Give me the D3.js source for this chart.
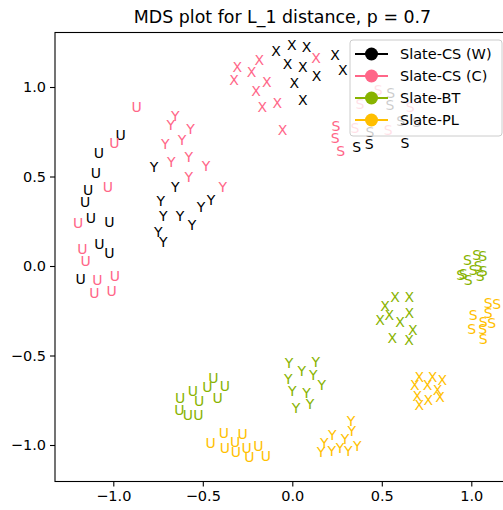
<!DOCTYPE html>
<html>
<head>
<meta charset="utf-8">
<script src="https://cdn.jsdelivr.net/npm/d3@7"></script>
<style>
  body { margin: 0; background: #fff; }
  text { font-family: "DejaVu Sans", sans-serif; }
</style>
</head>
<body>
<svg id="chart" width="503" height="510"></svg>
<script>
// MDS coordinates, one array of [x, y] per series and marker letter
const series = ['Slate-CS (W)', 'Slate-CS (C)', 'Slate-BT', 'Slate-PL'];
const letters = ['U', 'Y', 'X', 'S'];

const csW = {
    U: [[-0.959, 0.732], [-1.080, 0.630], [-1.098, 0.518], [-1.140, 0.425], [-1.158, 0.356],
        [-1.125, 0.266], [-1.022, 0.247], [-1.078, 0.123], [-1.022, 0.074], [-1.182, -0.073]],
    Y: [[-0.773, 0.551], [-0.654, 0.443], [-0.735, 0.363], [-0.721, 0.279], [-0.627, 0.279],
        [-0.560, 0.229], [-0.510, 0.328], [-0.454, 0.369], [-0.749, 0.192], [-0.721, 0.136]],
    X: [[-0.091, 1.201], [-0.003, 1.235], [0.080, 1.225], [-0.026, 1.128], [0.058, 1.113],
        [0.136, 1.061], [0.011, 1.021], [0.058, 0.927], [0.239, 1.179], [0.282, 1.095]],
    S: [[0.550, 0.965], [0.546, 0.899], [0.606, 0.812], [0.695, 0.806], [0.434, 0.750],
        [0.360, 0.663], [0.430, 0.682], [0.630, 0.685]]
};
const csC = {
    U: [[-0.869, 0.887], [-0.994, 0.689], [-1.031, 0.443], [-1.196, 0.242], [-1.173, 0.093],
        [-1.154, 0.030], [-1.089, -0.078], [-0.991, -0.056], [-1.106, -0.149], [-1.009, -0.140]],
    Y: [[-0.654, 0.840], [-0.679, 0.788], [-0.568, 0.765], [-0.709, 0.680], [-0.616, 0.704],
        [-0.579, 0.611], [-0.676, 0.583], [-0.482, 0.559], [-0.579, 0.496], [-0.389, 0.443]],
    X: [[-0.184, 1.151], [-0.307, 1.113], [-0.227, 1.082], [-0.326, 1.039], [-0.143, 1.026],
        [-0.203, 0.978], [-0.168, 0.887], [-0.084, 0.912], [-0.054, 0.760], [0.132, 1.160]],
    S: [[0.244, 0.782], [0.239, 0.717], [0.270, 0.644], [0.480, 0.983], [0.378, 0.903],
        [0.658, 0.890], [0.350, 0.769], [0.536, 0.760]]
};
const bt = {
    U: [[-0.627, -0.739], [-0.556, -0.698], [-0.475, -0.678], [-0.441, -0.627], [-0.376, -0.670],
        [-0.520, -0.753], [-0.417, -0.739], [-0.631, -0.804], [-0.584, -0.832], [-0.525, -0.832]],
    Y: [[-0.018, -0.540], [0.053, -0.585], [0.131, -0.536], [-0.022, -0.633], [0.117, -0.609],
        [0.164, -0.665], [0.000, -0.697], [0.080, -0.708], [0.099, -0.771], [0.021, -0.795]],
    X: [[0.574, -0.175], [0.654, -0.172], [0.518, -0.223], [0.542, -0.274], [0.654, -0.261],
        [0.490, -0.302], [0.602, -0.311], [0.673, -0.358], [0.559, -0.401], [0.652, -0.413]],
    S: [[0.978, 0.034], [1.030, 0.061], [1.064, 0.056], [0.955, -0.045], [1.039, 0.000],
        [0.983, -0.078], [1.049, -0.056], [1.011, -0.022], [1.067, -0.026], [0.941, -0.050]]
};
const pl = {
    U: [[-0.456, -0.991], [-0.382, -0.935], [-0.277, -0.939], [-0.376, -1.018], [-0.320, -0.982],
        [-0.315, -1.037], [-0.255, -1.018], [-0.240, -1.069], [-0.190, -1.006], [-0.147, -1.061]],
    Y: [[0.328, -0.864], [0.332, -0.920], [0.223, -0.944], [0.294, -0.966], [0.179, -0.991],
        [0.363, -1.006], [0.160, -1.037], [0.220, -1.032], [0.266, -1.018], [0.313, -1.032]],
    X: [[0.709, -0.622], [0.784, -0.618], [0.838, -0.637], [0.685, -0.665], [0.756, -0.665],
        [0.812, -0.693], [0.698, -0.726], [0.760, -0.749], [0.825, -0.730], [0.709, -0.777]],
    S: [[1.095, -0.208], [1.142, -0.214], [1.095, -0.264], [1.011, -0.274], [1.114, -0.317],
        [1.067, -0.311], [1.002, -0.354], [1.064, -0.354], [1.067, -0.409]]
};
const points = [csW, csC, bt, pl];
const xTicks = [-1.0, -0.5, 0.0, 0.5, 1.0];
const yTicks = [-1.0, -0.5, 0.0, 0.5, 1.0];

const palette = ['#000000', '#ff6688', '#88b300', '#ffbf00'];

var svg = d3.select('#chart'),
    cs = {
        left: 55, right: 510, top: 32.5, bottom: 481.5,
        x: { domain: [-1.3257, 1.2162] },
        y: { domain: [-1.2039, 1.3045] },
        font: 14.5
    };

cs.x.scale = d3.scaleLinear().domain(cs.x.domain).range([cs.left, cs.right]);
cs.y.scale = d3.scaleLinear().domain(cs.y.domain).range([cs.bottom, cs.top]);

// markers: letters drawn as text
points.forEach((s, i) => {
    letters.forEach(l => {
        svg.append('g').selectAll('text')
            .data(s[l])
            .enter()
            .append('text')
            .attr('x', d => cs.x.scale(d[0]))
            .attr('y', d => cs.y.scale(d[1]))
            .attr('text-anchor', 'middle')
            .attr('dominant-baseline', 'central')
            .attr('font-size', 14)
            .attr('fill', palette[i])
            .text(l);
    });
});

// axes
var fmt = d3.format('.1f');
var xAxis = d3.axisBottom(cs.x.scale).tickValues(xTicks).tickFormat(fmt).tickSize(5).tickPadding(4);
var yAxis = d3.axisLeft(cs.y.scale).tickValues(yTicks).tickFormat(fmt).tickSize(5).tickPadding(4);

svg.append('g').attr('transform', 'translate(0,' + cs.bottom + ')').call(xAxis);
svg.append('g').attr('transform', 'translate(' + cs.left + ',0)').call(yAxis);
svg.selectAll('.tick text').attr('font-size', cs.font).attr('font-family', '"DejaVu Sans", sans-serif').attr('fill', '#000');
svg.selectAll('.tick line').attr('stroke', '#000').attr('stroke-width', 1.1);
svg.selectAll('.domain').remove();

svg.append('rect')
    .attr('x', cs.left).attr('y', cs.top)
    .attr('width', cs.right - cs.left).attr('height', cs.bottom - cs.top)
    .attr('fill', 'none').attr('stroke', '#000').attr('stroke-width', 1.1);

// title
svg.append('text')
    .attr('x', (cs.left + cs.right) / 2).attr('y', 22.5)
    .attr('text-anchor', 'middle')
    .attr('font-size', 17.4)
    .text('MDS plot for L_1 distance, p = 0.7');

// legend
var lg = svg.append('g').attr('transform', 'translate(350,40)');
lg.append('rect')
    .attr('width', 152).attr('height', 96).attr('rx', 3)
    .attr('fill', '#fff').attr('fill-opacity', 0.8)
    .attr('stroke', '#cccccc').attr('stroke-width', 1);
series.forEach((name, i) => {
    var row = lg.append('g').attr('transform', 'translate(0,' + (14 + i * 22) + ')');
    row.append('line').attr('x1', 5).attr('x2', 38).attr('stroke', palette[i]).attr('stroke-width', 2);
    row.append('circle').attr('cx', 21.5).attr('r', 6.5).attr('fill', palette[i]);
    row.append('text').attr('x', 50).attr('dominant-baseline', 'central')
        .attr('font-size', cs.font).text(name);
});
</script>
</body>
</html>
